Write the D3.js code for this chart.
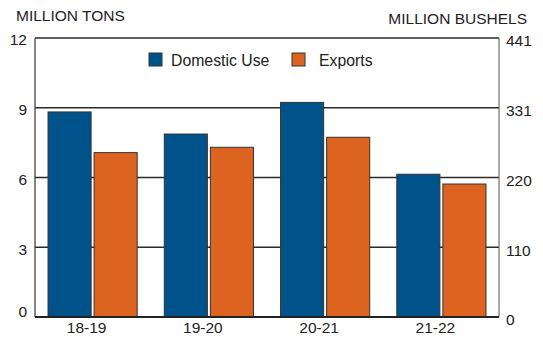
<!DOCTYPE html>
<html>
<head>
<meta charset="utf-8">
<script src="https://cdn.jsdelivr.net/npm/d3@7"></script>
<style>
  html, body { margin: 0; padding: 0; background: #fff; }
  svg { display: block; font-family: "Liberation Sans", Arial, sans-serif; }
</style>
</head>
<body>
<svg id="chart" width="543" height="337"></svg>
<script>
const categories = ["18-19", "19-20", "20-21", "21-22"];
const seriesNames = ["Domestic Use", "Exports"];
const domesticUse = [8.82, 7.87, 9.23, 6.14];
const exportsVals = [7.07, 7.30, 7.73, 5.72];
const leftTicks = [0, 3, 6, 9, 12];
const rightTicks = [0, 110, 220, 331, 441];
const colors = ["#00538a", "#dd6420"];

(function () {
const svg = d3.select("#chart");
const mLeft = 35, mRight = 499, mTop = 38, mBottom = 317;
const textColor = "#222";
const fontSize = "15.5px";

const x = d3.scaleBand().domain(categories).range([mLeft, mRight])
  .paddingInner(0.233).paddingOuter(0.112);
const xs = d3.scaleBand().domain(seriesNames).range([0, x.bandwidth()])
  .paddingInner(0.065);
const y = d3.scaleLinear().domain([0, 12]).range([mBottom, mTop]);
const y2 = d3.scaleLinear().domain([0, 441]).range([mBottom, mTop]);

// gridlines
svg.append("g").selectAll("line").data(leftTicks.filter(d => d > 0 && d < 12)).join("line")
  .attr("x1", mLeft).attr("x2", mRight)
  .attr("y1", d => y(d)).attr("y2", d => y(d))
  .attr("stroke", "#2a2a2a").attr("stroke-width", 1.7);

// frame
svg.append("line").attr("x1", mLeft).attr("x2", mRight).attr("y1", y(12)).attr("y2", y(12))
  .attr("stroke", "#2a2a2a").attr("stroke-width", 1.5);
svg.append("line").attr("x1", mLeft).attr("x2", mLeft).attr("y1", y(12)).attr("y2", y(0))
  .attr("stroke", "#444").attr("stroke-width", 1.3);
svg.append("line").attr("x1", mRight).attr("x2", mRight).attr("y1", y(12)).attr("y2", y(0))
  .attr("stroke", "#555").attr("stroke-width", 1);

// bars
const data = categories.map((c, i) => ({ cat: c, vals: [domesticUse[i], exportsVals[i]] }));
const groups = svg.append("g").selectAll("g").data(data).join("g")
  .attr("transform", d => `translate(${x(d.cat)},0)`);
groups.selectAll("rect").data(d => d.vals.map((v, j) => ({ name: seriesNames[j], v, j }))).join("rect")
  .attr("x", d => xs(d.name))
  .attr("width", xs.bandwidth())
  .attr("y", d => y(d.v))
  .attr("height", d => y(0) - y(d.v))
  .attr("fill", d => colors[d.j])
  .attr("stroke", "#333").attr("stroke-width", 1);

// bottom axis line
svg.append("line").attr("x1", mLeft).attr("x2", mRight).attr("y1", y(0)).attr("y2", y(0))
  .attr("stroke", "#222").attr("stroke-width", 2);

// left tick labels
svg.append("g").selectAll("text").data(leftTicks).join("text")
  .attr("x", mLeft - 8)
  .attr("y", d => d === 0 ? y(d) - 5 : y(d) + 2)
  .attr("dy", "0.35em")
  .attr("text-anchor", "end")
  .attr("font-size", fontSize).attr("fill", textColor)
  .text(d => d);

// right tick labels
svg.append("g").selectAll("text").data(rightTicks).join("text")
  .attr("x", mRight + 7)
  .attr("y", d => y2(d) + 3)
  .attr("dy", "0.35em")
  .attr("text-anchor", "start")
  .attr("font-size", fontSize).attr("fill", textColor)
  .text(d => d);

// category labels
svg.append("g").selectAll("text").data(categories).join("text")
  .attr("x", d => x(d) + x.bandwidth() / 2 - 6)
  .attr("y", 333)
  .attr("text-anchor", "middle")
  .attr("font-size", fontSize).attr("fill", textColor)
  .text(d => d);

// axis titles
svg.append("text").attr("x", 16).attr("y", 21)
  .attr("font-size", fontSize).attr("fill", textColor).text("MILLION TONS");
svg.append("text").attr("x", 527).attr("y", 24).attr("text-anchor", "end")
  .attr("font-size", fontSize).attr("fill", textColor).text("MILLION BUSHELS");

// legend
const legendX = [149, 292];
const legend = svg.append("g").selectAll("g").data(seriesNames).join("g")
  .attr("transform", (d, i) => `translate(${legendX[i]},53)`);
legend.append("rect").attr("width", 13).attr("height", 13)
  .attr("fill", (d, i) => colors[i]).attr("stroke", "#333").attr("stroke-width", 1);
legend.append("text").attr("x", (d, i) => i === 0 ? 22 : 27).attr("y", 13)
  .attr("font-size", "15.8px").attr("fill", textColor).text(d => d);
})();
</script>
</body>
</html>
